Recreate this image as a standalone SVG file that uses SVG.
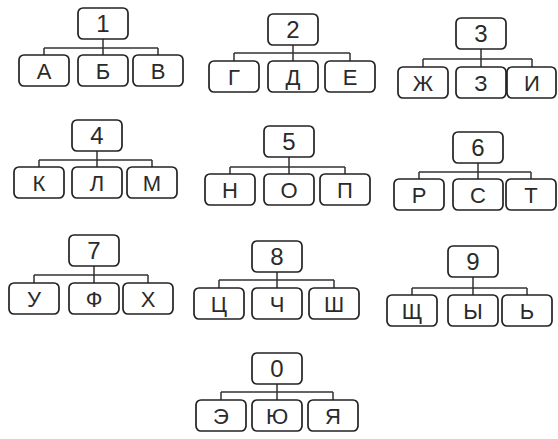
<svg xmlns="http://www.w3.org/2000/svg" width="558" height="439" viewBox="0 0 558 439">
<style>
rect{fill:#fff;stroke:#222;stroke-width:1.7}
text{font-family:"Liberation Sans","DejaVu Sans",sans-serif;font-size:22px;fill:#2a2a2a;text-anchor:middle}
.p text{font-size:24px}
.c{fill:none;stroke:#333;stroke-width:1.5}
</style>
<rect x="0" y="0" width="558" height="439" style="fill:#fff;stroke:none"/>
<g id="connectors" class="c">
<path d="M103 39V48M44 48H158M44 48V55M103 48V55M158 48V55"/>
<path d="M293 45V53M234 53H350M234 53V61M293 53V61M350 53V61"/>
<path d="M481 49V59M423 59H532M423 59V67M481 59V67M532 59V67"/>
<path d="M97 151V160M39 160H152M39 160V167M97 160V167M152 160V167"/>
<path d="M289 157V167M230 167H345M230 167V174M289 167V174M345 167V174"/>
<path d="M478 163V172M419 172H531M419 172V179M478 172V179M531 172V179"/>
<path d="M94 266V275M34 275H148M34 275V283M94 275V283M148 275V283"/>
<path d="M277 272V280M219 280H334M219 280V288M277 280V288M334 280V288"/>
<path d="M473 277V288M412 288H527M412 288V295M473 288V295M527 288V295"/>
<path d="M277 384V392M221 392H333M221 392V400M277 392V400M333 392V400"/>
</g>
<g id="n1" class="p"><rect x="78" y="8" width="50" height="31" rx="5"/><text x="103" y="32">1</text></g>
<g id="n1a"><rect x="19" y="55" width="50" height="31" rx="5"/><text x="44" y="79">А</text></g>
<g id="n1b"><rect x="78" y="55" width="50" height="31" rx="5"/><text x="103" y="79">Б</text></g>
<g id="n1c"><rect x="133" y="55" width="50" height="31" rx="5"/><text x="158" y="79">В</text></g>

<g id="n2" class="p"><rect x="268" y="14" width="50" height="31" rx="5"/><text x="293" y="38">2</text></g>
<g id="n2a"><rect x="209" y="61" width="50" height="31" rx="5"/><text x="234" y="85">Г</text></g>
<g id="n2b"><rect x="268" y="61" width="50" height="31" rx="5"/><text x="293" y="85">Д</text></g>
<g id="n2c"><rect x="325" y="61" width="50" height="31" rx="5"/><text x="350" y="85">Е</text></g>

<g id="n3" class="p"><rect x="456" y="18" width="50" height="31" rx="5"/><text x="481" y="42">3</text></g>
<g id="n3a"><rect x="398" y="67" width="50" height="31" rx="5"/><text x="423" y="91">Ж</text></g>
<g id="n3b"><rect x="456" y="67" width="50" height="31" rx="5"/><text x="481" y="91">З</text></g>
<g id="n3c"><rect x="507" y="67" width="49" height="31" rx="5"/><text x="532" y="91">И</text></g>

<g id="n4" class="p"><rect x="72" y="120" width="50" height="31" rx="5"/><text x="97" y="144">4</text></g>
<g id="n4a"><rect x="14" y="167" width="50" height="31" rx="5"/><text x="39" y="191">К</text></g>
<g id="n4b"><rect x="72" y="167" width="50" height="31" rx="5"/><text x="97" y="191">Л</text></g>
<g id="n4c"><rect x="127" y="167" width="50" height="31" rx="5"/><text x="152" y="191">М</text></g>

<g id="n5" class="p"><rect x="264" y="126" width="50" height="31" rx="5"/><text x="289" y="150">5</text></g>
<g id="n5a"><rect x="205" y="174" width="50" height="31" rx="5"/><text x="230" y="198">Н</text></g>
<g id="n5b"><rect x="264" y="174" width="50" height="31" rx="5"/><text x="289" y="198">О</text></g>
<g id="n5c"><rect x="320" y="174" width="50" height="31" rx="5"/><text x="345" y="198">П</text></g>

<g id="n6" class="p"><rect x="453" y="132" width="50" height="31" rx="5"/><text x="478" y="156">6</text></g>
<g id="n6a"><rect x="394" y="179" width="50" height="31" rx="5"/><text x="419" y="203">Р</text></g>
<g id="n6b"><rect x="453" y="179" width="50" height="31" rx="5"/><text x="478" y="203">С</text></g>
<g id="n6c"><rect x="506" y="179" width="50" height="31" rx="5"/><text x="531" y="203">Т</text></g>

<g id="n7" class="p"><rect x="69" y="235" width="50" height="31" rx="5"/><text x="94" y="259">7</text></g>
<g id="n7a"><rect x="9" y="283" width="50" height="31" rx="5"/><text x="34" y="307">У</text></g>
<g id="n7b"><rect x="69" y="283" width="50" height="31" rx="5"/><text x="94" y="307">Ф</text></g>
<g id="n7c"><rect x="123" y="283" width="50" height="31" rx="5"/><text x="148" y="307">Х</text></g>

<g id="n8" class="p"><rect x="252" y="241" width="50" height="31" rx="5"/><text x="277" y="265">8</text></g>
<g id="n8a"><rect x="194" y="288" width="50" height="31" rx="5"/><text x="219" y="312">Ц</text></g>
<g id="n8b"><rect x="252" y="288" width="50" height="31" rx="5"/><text x="277" y="312">Ч</text></g>
<g id="n8c"><rect x="309" y="288" width="50" height="31" rx="5"/><text x="334" y="312">Ш</text></g>

<g id="n9" class="p"><rect x="448" y="246" width="50" height="31" rx="5"/><text x="473" y="270">9</text></g>
<g id="n9a"><rect x="387" y="295" width="50" height="31" rx="5"/><text x="412" y="319">Щ</text></g>
<g id="n9b"><rect x="448" y="295" width="50" height="31" rx="5"/><text x="473" y="319">Ы</text></g>
<g id="n9c"><rect x="502" y="295" width="50" height="31" rx="5"/><text x="527" y="319">Ь</text></g>

<g id="n0" class="p"><rect x="252" y="353" width="50" height="31" rx="5"/><text x="277" y="377">0</text></g>
<g id="n0a"><rect x="196" y="400" width="50" height="31" rx="5"/><text x="221" y="424">Э</text></g>
<g id="n0b"><rect x="252" y="400" width="50" height="31" rx="5"/><text x="277" y="424">Ю</text></g>
<g id="n0c"><rect x="308" y="400" width="50" height="31" rx="5"/><text x="333" y="424">Я</text></g>
</svg>
